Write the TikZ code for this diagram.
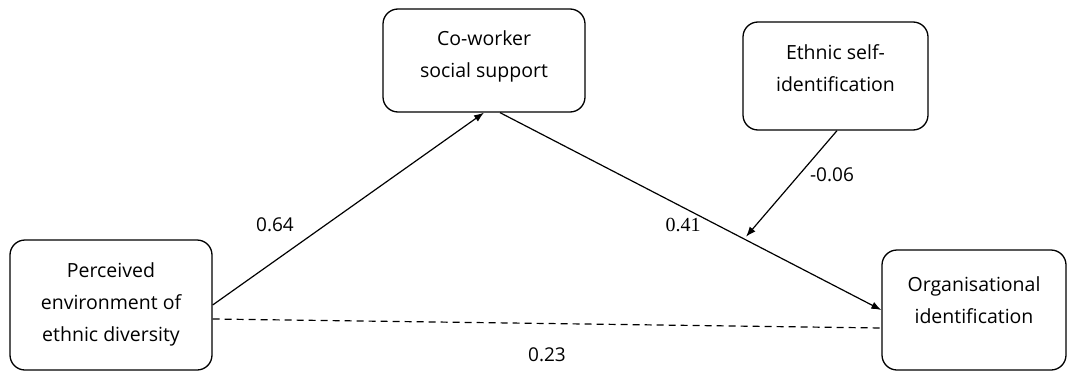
\documentclass[tikz,border=0pt]{standalone}
\usepackage{fontspec}
\setmainfont{Open Sans}
\newfontfamily\serifnum{Liberation Serif}
\usetikzlibrary{arrows.meta,calc}
\begin{document}
\begin{tikzpicture}[x=1pt,y=-1pt,
  box/.style={draw, line width=1.3pt, rounded corners=15pt, inner sep=0pt},
  txt/.style={align=center, font=\fontsize{19.5}{32}\selectfont, inner sep=0pt},
  conn/.style={line width=1.2pt, -{Latex[length=10pt,width=7.5pt]}},
  lbl/.style={font=\fontsize{19}{20}\selectfont, inner sep=0pt}]
\useasboundingbox (0,0) rectangle (1070,372);
\node[box, minimum width=202pt, minimum height=130pt] (L) at (111,305) {};
\node[txt] (Lt) at (111,304) {Perceived\\environment of\\ethnic diversity};
\node[box, minimum width=202pt, minimum height=103pt] (C) at (484,60.5) {};
\node[txt] (Ct) at (484,56) {Co-worker\\social support};
\node[box, minimum width=185pt, minimum height=108pt] (E) at (835.5,76) {};
\node[txt] (Et) at (835.5,68) {Ethnic self-\\identification};
\node[box, minimum width=184pt, minimum height=120pt] (O) at (974,310) {};
\node[txt] (Ot) at (974,300) {Organisational\\identification};
\draw[conn] (L.east) -- (C.south);
\draw[line width=1.2pt, dash pattern=on 7pt off 5pt] ([yshift=-14pt]L.east) -- ([yshift=-18pt]O.west);
\draw[conn] ([xshift=16pt]C.south) -- coordinate[pos=0.64] (m) (O.west);
\draw[conn, shorten >=3pt] ([xshift=1.5pt]E.south) -- (m);
\node[lbl] (l64) at (275,225) {0.64};
\node[lbl, font=\serifnum\fontsize{20}{20}\selectfont] (l41) at (683,225) {0.41};
\node[lbl] (l06) at (832,175) {-0.06};
\node[lbl] (l23) at (547,355) {0.23};
\end{tikzpicture}
\end{document}
